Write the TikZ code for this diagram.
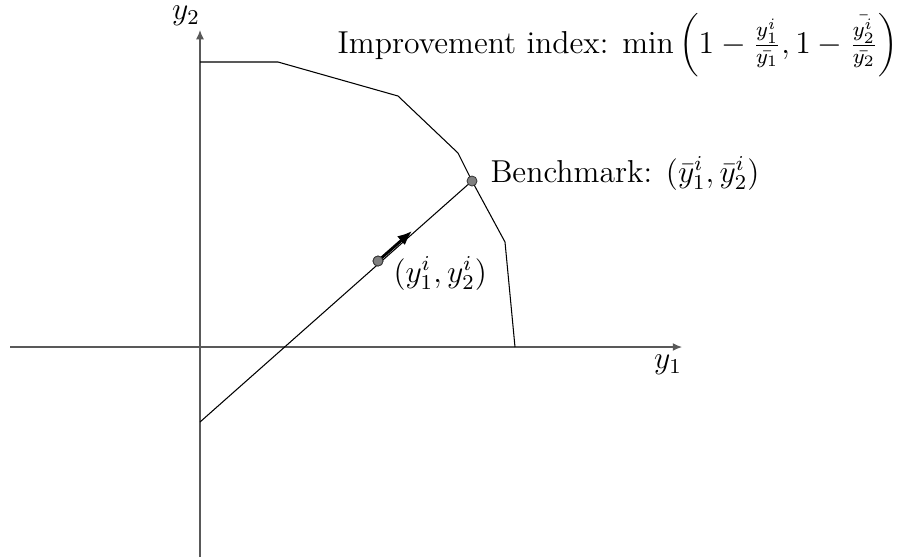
\documentclass[tikz,border=0pt]{standalone}
\usetikzlibrary{arrows.meta}
\begin{document}
\begin{tikzpicture}[x=0.0133cm,y=-0.0133cm,
  axis/.style={draw=black!65,line width=0.45pt,-{Latex[length=3.5pt,width=3pt]}},
  frontier/.style={draw=black,line width=0.4pt},
  dot/.style={circle,draw=black!80,line width=0.3pt,fill=black!50,inner sep=0pt,minimum size=3.8pt},
  lbl/.style={inner sep=0pt,font=\large}]
\useasboundingbox (0,0) rectangle (904,557);
% axes
\coordinate (xs) at (10,347);
\coordinate (xe) at (682,347);
\coordinate (ys) at (200,557);
\coordinate (ye) at (200,30);
\draw[axis] (xs) -- (xe);
\draw[axis] (ys) -- (ye);
\node[lbl] (ylab) at (186,16) {$y_2$};
\node[lbl] (xlab) at (668,365) {$y_1$};
% frontier
\coordinate (f0) at (200,62);
\coordinate (f1) at (278,62);
\coordinate (f2) at (398,96);
\coordinate (f3) at (458,153);
\coordinate (f4) at (472,181);
\coordinate (f5) at (505,242);
\coordinate (f6) at (515,347);
\draw[frontier] (f0) -- (f1) -- (f2) -- (f3) -- (f4) -- (f5) -- (f6);
% ray
\coordinate (r0) at (200,422);
\draw[frontier] (r0) -- (f4);
\node[dot] (p) at (378,261) {};
\node[dot] (b) at (472,181) {};
\coordinate (at) at (412,231);
\draw[line width=1.1pt,-{Latex[length=5.5pt,width=4.5pt]}] (p.center) -- (at);
\node[dot] at (378,261) {};
% labels
\node[lbl,anchor=base west] (blab) at (490,182) {Benchmark: $(\bar{y}_1^i,\bar{y}_2^i)$};
\node[lbl,anchor=base west] (plab) at (393,282) {$(y_1^i,y_2^i)$};
\node[lbl,anchor=base east] (title) at (898,53) {Improvement index: $\min\left(1-\frac{y_1^i}{\bar{y_1}},1-\frac{\bar{y_2^i}}{\bar{y_2}}\right)$};
\end{tikzpicture}
\end{document}
